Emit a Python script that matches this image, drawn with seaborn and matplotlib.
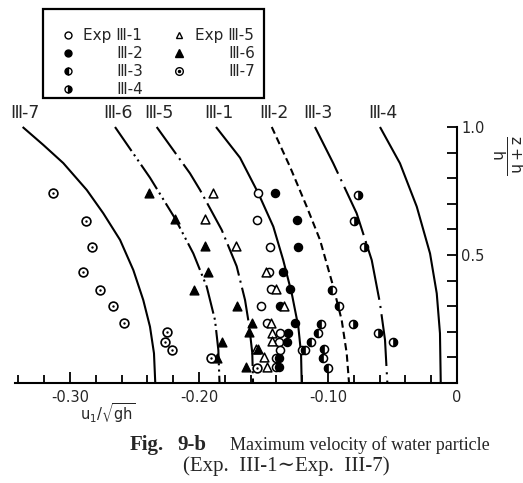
import matplotlib
matplotlib.use("Agg")
import numpy as np
import pandas as pd
import matplotlib.pyplot as plt
import seaborn as sns
from matplotlib.markers import MarkerStyle
from matplotlib.lines import Line2D
from matplotlib.patches import Rectangle
from matplotlib.legend_handler import HandlerTuple

# ---------------- data ----------------
# theoretical curves: x = u1/sqrt(gh), y = (z+h)/h
c7_x = [-0.3367, -0.3207, -0.3052, -0.2870, -0.2742, -0.2612, -0.2509, -0.2432, -0.2380, -0.2349, -0.2339]
c7_y = [1.0, 0.930, 0.859, 0.754, 0.663, 0.559, 0.441, 0.324, 0.220, 0.116, 0.0]
c6_x = [-0.2651, -0.2380, -0.2186, -0.2044, -0.1940, -0.1876, -0.1850, -0.1841]
c6_y = [1.0, 0.802, 0.643, 0.506, 0.376, 0.246, 0.129, 0.0]
c5_x = [-0.2328, -0.2070, -0.1992, -0.1824, -0.1708, -0.1643, -0.1610, -0.1587, -0.1581]
c5_y = [1.0, 0.819, 0.754, 0.598, 0.456, 0.324, 0.220, 0.117, 0.0]
c1_x = [-0.1868, -0.1682, -0.1540, -0.1424, -0.1347, -0.1281, -0.1230, -0.1209, -0.1204]
c1_y = [1.0, 0.880, 0.741, 0.611, 0.480, 0.350, 0.220, 0.116, 0.0]
c2_x = [-0.1436, -0.1295, -0.1165, -0.1062, -0.0959, -0.0894, -0.0855, -0.0837]
c2_y = [1.0, 0.845, 0.689, 0.559, 0.376, 0.246, 0.116, 0.0]
c3_x = [-0.1101, -0.0959, -0.0778, -0.0661, -0.0597, -0.0558, -0.0540]
c3_y = [1.0, 0.858, 0.663, 0.480, 0.311, 0.168, 0.0]
c4_x = [-0.0597, -0.0442, -0.0312, -0.0209, -0.0157, -0.0132, -0.0126]
c4_y = [1.0, 0.858, 0.689, 0.506, 0.350, 0.194, 0.0]
curve_names = ["Ⅲ-7", "Ⅲ-6", "Ⅲ-5", "Ⅲ-1", "Ⅲ-2", "Ⅲ-3", "Ⅲ-4"]

# experiments
e1_x = [-0.1540, -0.1548, -0.1450, -0.1455, -0.1444, -0.1519, -0.1475, -0.1372, -0.1380, -0.1372, -0.1205, -0.1403, -0.1403]
e1_y = [0.741, 0.637, 0.532, 0.435, 0.367, 0.299, 0.233, 0.197, 0.162, 0.129, 0.129, 0.098, 0.061]
e2_x = [-0.1411, -0.1243, -0.1230, -0.1349, -0.1295, -0.1372, -0.1256, -0.1308, -0.1316, -0.1376, -0.1376]
e2_y = [0.741, 0.637, 0.532, 0.435, 0.367, 0.299, 0.233, 0.197, 0.162, 0.098, 0.061]
e3_x = [-0.0967, -0.0912, -0.1058, -0.1075, -0.1132, -0.1178, -0.1031, -0.1041, -0.0998]
e3_y = [0.363, 0.302, 0.230, 0.194, 0.162, 0.129, 0.132, 0.097, 0.057]
e4_x = [-0.0765, -0.0796, -0.0721, -0.0804, -0.0610, -0.0494]
e4_y = [0.734, 0.633, 0.532, 0.230, 0.197, 0.162]
e5_x = [-0.1889, -0.1953, -0.1717, -0.1483, -0.1403, -0.1341, -0.1442, -0.1436, -0.1436, -0.1560, -0.1494, -0.1475]
e5_y = [0.741, 0.641, 0.537, 0.435, 0.367, 0.299, 0.233, 0.197, 0.164, 0.133, 0.101, 0.061]
e6_x = [-0.2385, -0.2186, -0.1951, -0.1928, -0.2039, -0.1702, -0.1587, -0.1612, -0.1819, -0.1540, -0.1860, -0.1638]
e6_y = [0.743, 0.641, 0.537, 0.435, 0.362, 0.299, 0.235, 0.198, 0.162, 0.133, 0.098, 0.064]
e7_x = [-0.3134, -0.2876, -0.2827, -0.2897, -0.2767, -0.2664, -0.2581, -0.2246, -0.2264, -0.2208, -0.1907, -0.1548]
e7_y = [0.741, 0.634, 0.532, 0.435, 0.365, 0.302, 0.233, 0.201, 0.162, 0.127, 0.098, 0.060]

legend_labels = ["Exp Ⅲ-1", "       Ⅲ-2", "       Ⅲ-3", "       Ⅲ-4",
                 "Exp Ⅲ-5", "       Ⅲ-6", "       Ⅲ-7"]
x_major = [-0.30, -0.20, -0.10, 0.0]
x_major_labels = ["-0.30", "-0.20", "-0.10", "0"]
y_ticks = [0.0, 0.1, 0.2, 0.3, 0.4, 0.5, 0.6, 0.7, 0.8, 0.9, 1.0]
y_tick_labels = ["", "", "", "", "", "0.5", "", "", "", "", "1.0"]

# ---------------- styling ----------------
sns.set_style("white")
plt.rcParams["font.family"] = ["DejaVu Sans", "Noto Sans CJK JP"]
plt.rcParams["lines.solid_capstyle"] = "butt"

W, H = 523, 483
fig = plt.figure(figsize=(W / 100, H / 100), dpi=100)
ax = fig.add_axes([15 / W, 1 - 383 / H, (457 - 15) / W, (383 - 127) / H])

curve_x = [c7_x, c6_x, c5_x, c1_x, c2_x, c3_x, c4_x]
curve_y = [c7_y, c6_y, c5_y, c1_y, c2_y, c3_y, c4_y]
styles = ["-", (0, (14, 2, 1, 2, 1, 2)), (0, (16, 2.5, 1, 2.5)), "-",
          (0, (3.5, 2)), (0, (25, 3, 1, 3)), "-"]
for name, cx, cy, ls in zip(curve_names, curve_x, curve_y, styles):
    df = pd.DataFrame({"x": cx, "y": cy})
    sns.lineplot(data=df, x="x", y="y", sort=False, estimator=None, ax=ax,
                 color="black", linewidth=1.5, linestyle=ls, clip_on=False)
    ax.text(cx[0] + 0.002, 1.055, name, ha="center", va="center", fontsize=12.5,
            clip_on=False)

S = 34
# III-1 open circles
sns.scatterplot(x=e1_x, y=e1_y, ax=ax, marker="o", s=S, color="black",
                facecolor="white", edgecolor="black", linewidth=1.1, zorder=3)
# III-2 filled circles
sns.scatterplot(x=e2_x, y=e2_y, ax=ax, marker="o", s=S, color="black",
                facecolor="black", edgecolor="black", linewidth=1.0, zorder=3)
# III-3 / III-4 half filled
for ex, ey, fs in [(e3_x, e3_y, "left"), (e4_x, e4_y, "right")]:
    sns.scatterplot(x=ex, y=ey, ax=ax, marker="o", s=S, color="black",
                    facecolor="white", edgecolor="black", linewidth=1.1, zorder=3)
    sns.scatterplot(x=ex, y=ey, ax=ax, marker=MarkerStyle("o", fillstyle=fs),
                    s=S, color="black", facecolor="black", edgecolor="black",
                    linewidth=0.5, zorder=4)
# III-5 open triangles
sns.scatterplot(x=e5_x, y=e5_y, ax=ax, marker="^", s=40, color="black",
                facecolor="white", edgecolor="black", linewidth=1.1, zorder=3)
# III-6 filled triangles
sns.scatterplot(x=e6_x, y=e6_y, ax=ax, marker="^", s=40, color="black",
                facecolor="black", edgecolor="black", linewidth=1.0, zorder=3)
# III-7 circle with dot
sns.scatterplot(x=e7_x, y=e7_y, ax=ax, marker="o", s=40, color="black",
                facecolor="white", edgecolor="black", linewidth=1.2, zorder=3)
sns.scatterplot(x=e7_x, y=e7_y, ax=ax, marker="o", s=3, color="black",
                facecolor="black", edgecolor="black", linewidth=0, zorder=4)

ax.set_xlim(-(457 - 15) / 1290, 0)
ax.set_ylim(0, 1.0)
ax.set_xlabel("")
ax.set_ylabel("")
for s in ["left", "top"]:
    ax.spines[s].set_visible(False)
for s in ["right", "bottom"]:
    ax.spines[s].set_visible(True)
    ax.spines[s].set_linewidth(1.5)
    ax.spines[s].set_color("black")

ax.set_xticks(x_major, x_major_labels)
ax.set_xticks(np.arange(-0.34, 0.001, 0.02), minor=True)
ax.tick_params(axis="x", which="both", direction="in", bottom=True, top=False,
               width=1.3, color="black", labelsize=10.5, pad=5)
ax.tick_params(axis="x", which="major", length=8)
ax.tick_params(axis="x", which="minor", length=6)
ax.yaxis.tick_right()
ax.set_yticks(y_ticks, y_tick_labels)
ax.tick_params(axis="y", direction="in", right=True, left=False, length=7,
               width=1.3, color="black", labelsize=10.5, pad=3)

# axis labels
fig.text(108 / W, 1 - 413 / H, r"$\mathrm{u_1/\sqrt{gh}}$", ha="center",
         va="center", fontsize=10.5)
fig.text(507 / W, 1 - 155 / H, r"$\mathrm{\frac{z+h}{h}}$", ha="center",
         va="center", fontsize=16, rotation=-90)

# legend
h1 = Line2D([], [], ls="none", marker="o", ms=5, mfc="white", mec="black", mew=1.0)
h2 = Line2D([], [], ls="none", marker="o", ms=5, mfc="black", mec="black")
h3 = Line2D([], [], ls="none", marker="o", ms=5, fillstyle="left", mfc="black",
            markerfacecoloralt="white", mec="black", mew=1.0)
h4 = Line2D([], [], ls="none", marker="o", ms=5, fillstyle="right", mfc="black",
            markerfacecoloralt="white", mec="black", mew=1.0)
h5 = Line2D([], [], ls="none", marker="^", ms=5, mfc="white", mec="black", mew=1.0)
h6 = Line2D([], [], ls="none", marker="^", ms=5.5, mfc="black", mec="black")
h7a = Line2D([], [], ls="none", marker="o", ms=5.5, mfc="white", mec="black", mew=1.0)
h7b = Line2D([], [], ls="none", marker="o", ms=1.5, mfc="black", mec="black")
leg = fig.legend([h1, h2, h3, h4, h5, h6, (h7a, h7b)], legend_labels,
                 handler_map={tuple: HandlerTuple(ndivide=1)},
                 loc="upper left", bbox_to_anchor=(60 / W, 1 - 28 / H),
                 ncol=2, frameon=False, fontsize=11, borderpad=0,
                 borderaxespad=0, handlelength=1.0, handletextpad=0.5,
                 columnspacing=1.9, labelspacing=0.2)
fig.patches.append(Rectangle((43 / W, 1 - 98 / H), (264 - 43) / W, (98 - 9) / H,
                             transform=fig.transFigure, fill=False,
                             edgecolor="black", linewidth=1.6))

# caption
serif = ["Liberation Serif", "DejaVu Serif"]
fig.text(130 / W, 1 - 445 / H, "Fig.", ha="left", va="center",
         fontsize=15, fontweight="bold", family=serif)
fig.text(177 / W, 1 - 445 / H, "9-b", ha="left", va="center",
         fontsize=15, fontweight="bold", family=serif)
fig.text(230 / W, 1 - 445 / H, "Maximum velocity of water particle",
         ha="left", va="center", fontsize=13, family=serif)
fig.text(286 / W, 1 - 466 / H, "(Exp.  III-1∼Exp.  III-7)", ha="center",
         va="center", fontsize=15, family=serif)

fig.savefig("out.png", dpi=100)
